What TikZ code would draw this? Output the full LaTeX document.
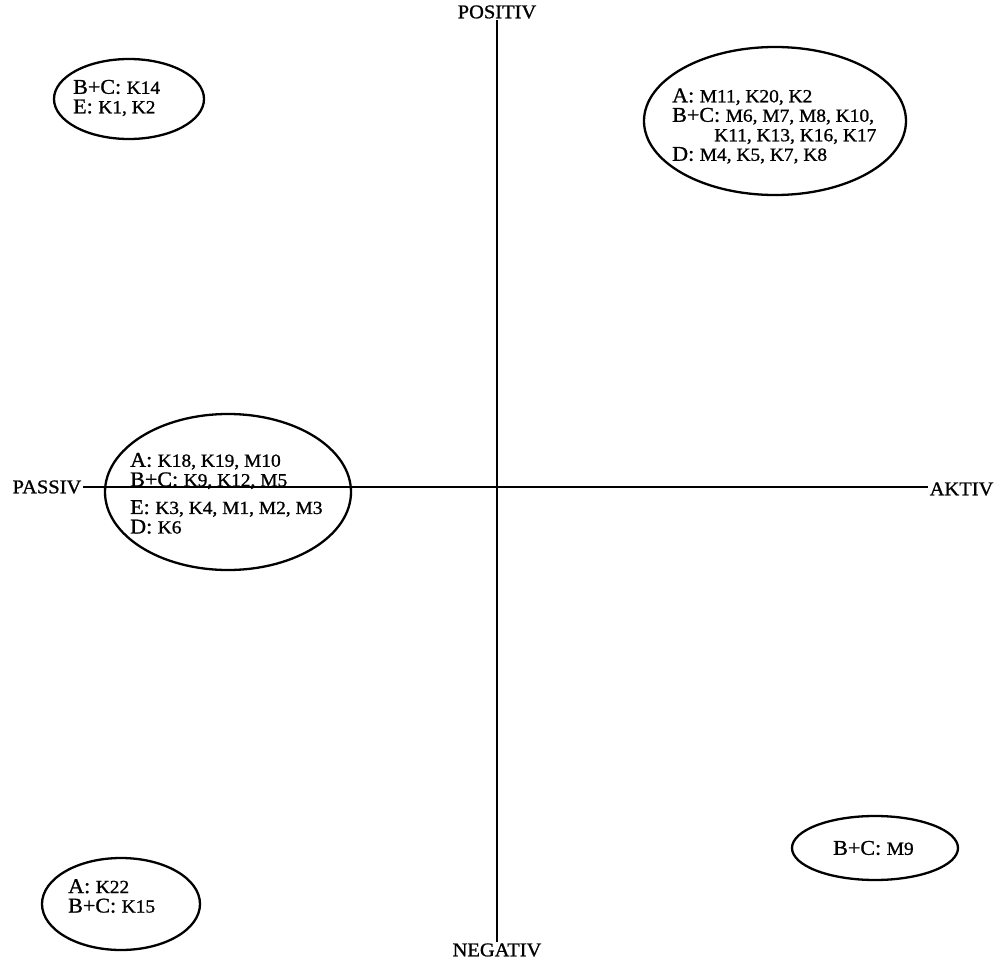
\documentclass[tikz,border=0pt]{standalone}
\usepackage{fontspec}
\setmainfont[FakeStretch=1.05,FakeBold=1]{Liberation Serif}
\usetikzlibrary{shapes.geometric}
\newcommand\kc[1]{{\fontsize{18.5}{19.5}\selectfont #1}}
\begin{document}
\begin{tikzpicture}[x=1pt,y=-1pt,
  every node/.style={font=\fontsize{21}{19.5}\selectfont},
  axislabel/.style={inner sep=1.5pt,font=\fontsize{19.5}{20}\selectfont},
  axisline/.style={line width=1.8pt},
  cluster/.style={draw,ellipse,line width=2.3pt,inner sep=0pt},
  clustertext/.style={align=left,anchor=west,inner sep=0pt}]
\useasboundingbox (0,0) rectangle (997,961);
% axes
\node[axislabel] (pos) at (497,12) {POSITIV};
\node[axislabel] (neg) at (497,950) {NEGATIV};
\node[axislabel,anchor=east] (pas) at (83,487) {PASSIV};
\node[axislabel,anchor=west] (akt) at (928,489) {AKTIV};
\draw[axisline] (pos.south) -- (neg.north);
\draw[axisline] (pas.east) -- (akt.west |- pas.east);
% top left
\node[cluster,minimum width=150pt,minimum height=80pt] (tl) at (129,99) {};
\node[clustertext] (tlt) at (73,98) {B+C: \kc{K14}\\E: \kc{K1, K2}};
% top right
\node[cluster,minimum width=262pt,minimum height=148pt] (tr) at (775,121) {};
\node[clustertext] (trt) at (672,126) {A: \kc{M11, K20, K2}\\B+C: \kc{M6, M7, M8, K10,}\\\hspace*{42pt}\kc{K11, K13, K16, K17}\\D: \kc{M4, K5, K7, K8}};
% middle left
\node[cluster,minimum width=246pt,minimum height=156pt] (ml) at (228,492) {};
\node[clustertext] (mlu) at (130,471) {A: \kc{K18, K19, M10}\\B+C: \kc{K9, K12, M5}};
\node[clustertext] (mll) at (130,517) {E: \kc{K3, K4, M1, M2, M3}\\D: \kc{K6}};
% bottom left
\node[cluster,minimum width=158pt,minimum height=92pt] (bl) at (121,904) {};
\node[clustertext] (blt) at (68,896) {A: \kc{K22}\\B+C: \kc{K15}};
% bottom right
\node[cluster,minimum width=166pt,minimum height=64pt] (br) at (875,848) {};
\node[clustertext] (brt) at (833,848) {B+C: \kc{M9}};
\end{tikzpicture}
\end{document}
